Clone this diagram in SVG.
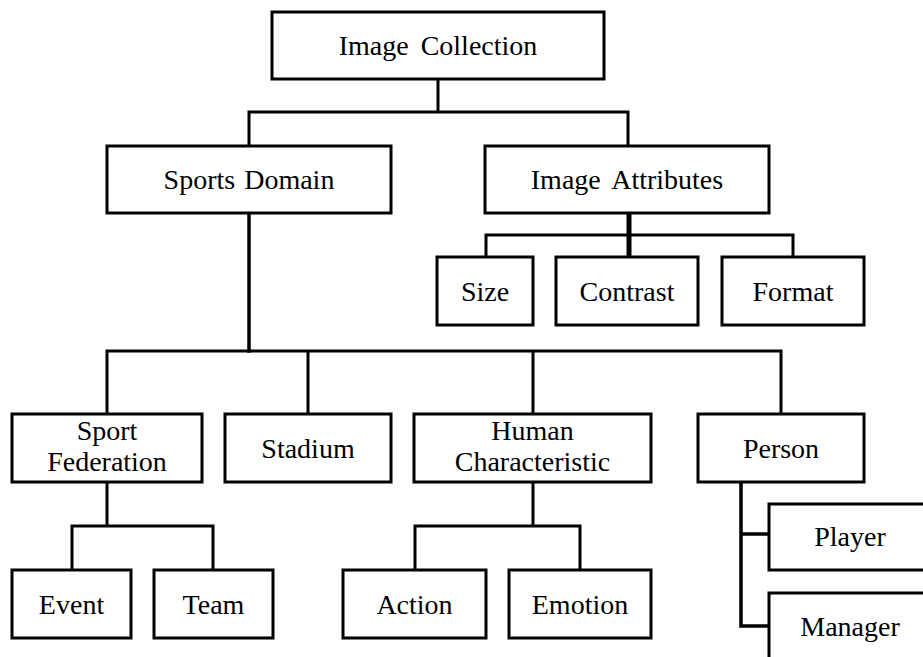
<svg xmlns="http://www.w3.org/2000/svg" width="923" height="657" viewBox="0 0 923 657">
<style>
.box{fill:#fff;stroke:#000;stroke-width:3}
.t{font-family:'Liberation Serif','Times New Roman',serif;font-size:28px;fill:#000;text-anchor:middle}
.c{fill:none;stroke:#000;stroke-width:3;stroke-linecap:square}
</style>
<rect width="923" height="657" fill="#fff"/>
<g id="connectors">
<path class="c" d="M438 79V112M249 112H628M249 112V146M628 112V146"/>
<path class="c" d="M629 213V257" style="stroke-width:5;stroke-linecap:butt"/>
<path class="c" d="M486 235H793M486 235V257M793 235V257"/>
<path class="c" d="M249 213V351" style="stroke-width:3.5"/>
<path class="c" d="M107 351H781M107 351V414M308 351V414M533 351V414M781 351V414"/>
<path class="c" d="M107 482V526M72 526H213M72 526V570M213 526V570"/>
<path class="c" d="M533 482V526M415 526H580M415 526V570M580 526V570"/>
<path class="c" d="M741 482V626M741 534H769M741 626H769" style="stroke-width:3.5"/>
</g>
<g font-family="Liberation Serif, serif" font-size="28" text-anchor="middle" fill="#000">
<g id="image-collection"><rect class="box" x="272" y="12" width="332" height="67"/><text class="t" x="438" y="55" word-spacing="5">Image Collection</text></g>
<g id="sports-domain"><rect class="box" x="107" y="146" width="284" height="67"/><text class="t" x="249" y="189" word-spacing="2">Sports Domain</text></g>
<g id="image-attributes"><rect class="box" x="485" y="146" width="284" height="67"/><text class="t" x="627" y="189" word-spacing="5">Image Attributes</text></g>
<g id="size"><rect class="box" x="437" y="257" width="96" height="68"/><text class="t" x="485" y="300.5">Size</text></g>
<g id="contrast"><rect class="box" x="556" y="257" width="142" height="68"/><text class="t" x="627" y="300.5">Contrast</text></g>
<g id="format"><rect class="box" x="722" y="257" width="142" height="68"/><text class="t" x="793" y="300.5">Format</text></g>
<g id="sport-federation"><rect class="box" x="12" y="414" width="190" height="68"/><text class="t" x="107" y="440">Sport</text><text class="t" x="107" y="471">Federation</text></g>
<g id="stadium"><rect class="box" x="225" y="414" width="166" height="68"/><text class="t" x="308" y="457.5">Stadium</text></g>
<g id="human-characteristic"><rect class="box" x="414" y="414" width="237" height="68"/><text class="t" x="532.5" y="440">Human</text><text class="t" x="532.5" y="471">Characteristic</text></g>
<g id="person"><rect class="box" x="698" y="414" width="166" height="68"/><text class="t" x="781" y="457.5">Person</text></g>
<g id="event"><rect class="box" x="12" y="570" width="119" height="68"/><text class="t" x="71.5" y="614">Event</text></g>
<g id="team"><rect class="box" x="154" y="570" width="119" height="68"/><text class="t" x="213.5" y="614">Team</text></g>
<g id="action"><rect class="box" x="343" y="570" width="143" height="68"/><text class="t" x="414.5" y="614">Action</text></g>
<g id="emotion"><rect class="box" x="509" y="570" width="142" height="68"/><text class="t" x="580" y="614">Emotion</text></g>
<g id="player"><rect class="box" x="769" y="504" width="162" height="66"/><text class="t" x="850" y="546">Player</text></g>
<g id="manager"><rect class="box" x="769" y="593" width="162" height="80"/><text class="t" x="850" y="636">Manager</text></g>
</g>
</svg>
